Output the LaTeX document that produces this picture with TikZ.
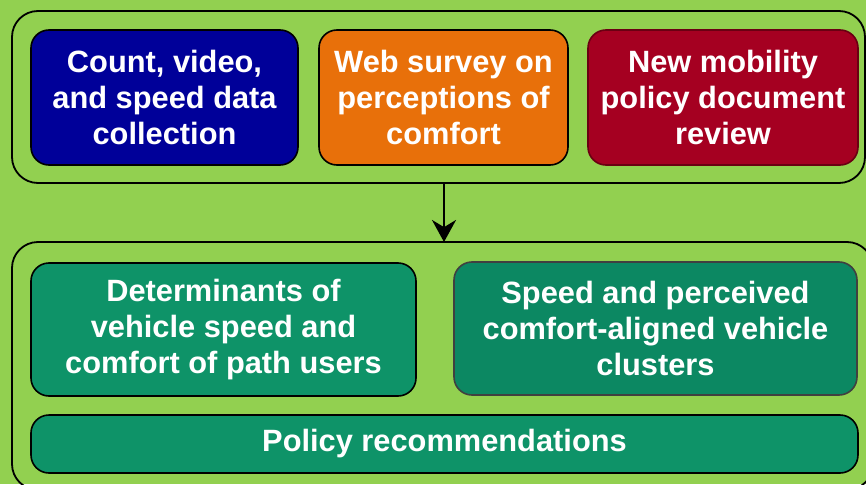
\documentclass[tikz,border=0pt]{standalone}
\usepackage{fontspec}
\setmainfont{Liberation Sans}
\usetikzlibrary{arrows.meta}
\definecolor{bggreen}{HTML}{92D050}
\definecolor{cblue}{HTML}{000099}
\definecolor{corange}{HTML}{E8700A}
\definecolor{cred}{HTML}{A50021}
\definecolor{credborder}{HTML}{6A0012}
\definecolor{cteal}{HTML}{0E9368}
\definecolor{cteal2}{HTML}{0C8862}
\definecolor{cgray}{HTML}{404040}
\tikzset{
  container/.style={draw=black, line width=1.8pt, rounded corners=26pt},
  box/.style={draw=black, line width=1.6pt, rounded corners=18pt, text=white,
    align=center, font=\bfseries\fontsize{30.8}{36}\selectfont, inner sep=0pt},
}
\begin{document}
\begin{tikzpicture}[x=1pt,y=-1pt]
\useasboundingbox (0,0) rectangle (866,484);
\clip (0,0) rectangle (866,484);
\fill[bggreen] (0,0) rectangle (866,484);
% containers
\draw[container] (12,11) rectangle (865,183);
\draw[container] (12,242) rectangle (873,490);
\coordinate (topc) at (444,183);
\coordinate (botc) at (444,242);
% top boxes
\node[box, fill=cblue, minimum width=267pt, minimum height=135pt] (count) at (164.5,97.5)
  {Count, video,\\and speed data\\collection};
\node[box, fill=corange, minimum width=249pt, minimum height=135pt] (web) at (443.5,97.5)
  {Web survey on\\perceptions of\\comfort};
\node[box, fill=cred, draw=credborder, minimum width=270pt, minimum height=135pt] (newm) at (723,97.5)
  {New mobility\\policy document\\review};
% bottom boxes
\node[box, fill=cteal, minimum width=385pt, minimum height=133pt] (det) at (223.5,329.5)
  {Determinants of\\vehicle speed and\\comfort of path users};
\node[box, fill=cteal2, draw=cgray, minimum width=403pt, minimum height=133pt] (spd) at (655.5,328.5)
  {Speed and perceived\\comfort-aligned vehicle\\clusters};
\node[box, fill=cteal, minimum width=827pt, minimum height=58pt] (pol) at (444.5,444)
  {Policy recommendations};
% arrow
\draw[line width=2.2pt, -{Stealth[length=22pt,width=24pt]}] (topc) -- (botc);
\end{tikzpicture}
\end{document}
